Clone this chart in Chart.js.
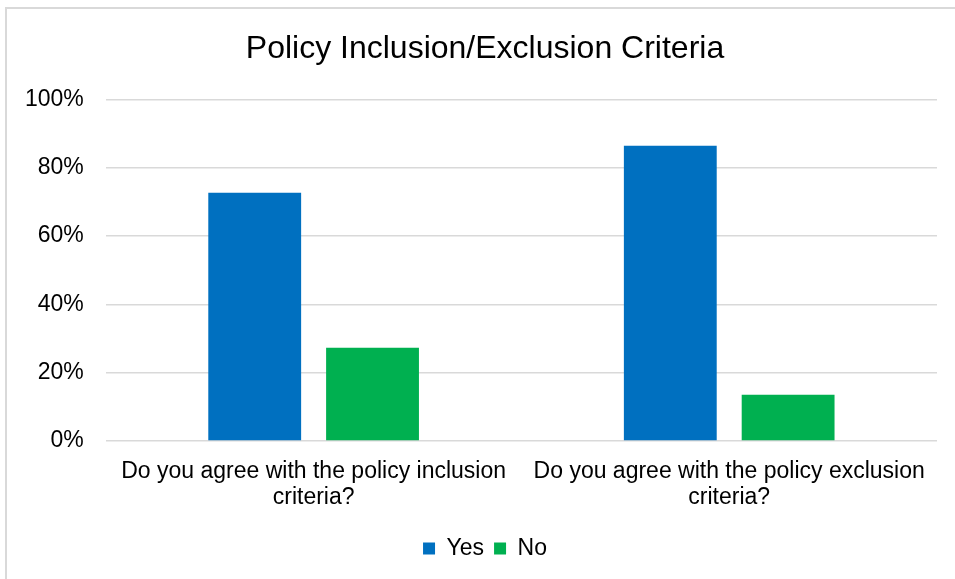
<!DOCTYPE html>
<html>
<head>
<meta charset="utf-8">
<script src="https://cdn.jsdelivr.net/npm/chart.js@4/dist/chart.umd.min.js"></script>
<style>
  html, body { margin: 0; padding: 0; background: #fff; overflow: hidden; }
  #frame {
    position: absolute; left: 5px; top: 7px;
    width: 1000px; height: 600px;
    border: 2px solid #d9d9d9; box-sizing: border-box;
  }
  #chart { position: absolute; left: 3px; top: 9px; display: block; }
</style>
</head>
<body>
<div id="frame"></div>
<canvas id="chart" width="964" height="576"></canvas>
<script>
  // survey answers, share of respondents (%)
  const categories = [
    ["Do you agree with the policy inclusion", "criteria?"],
    ["Do you agree with the policy exclusion", "criteria?"]
  ];
  const yesValues = [72.7, 86.4];
  const noValues = [27.3, 13.6];
  const yTicks = [0, 20, 40, 60, 80, 100];

  const FONT = "'Liberation Sans', Arial, sans-serif";

  new Chart(document.getElementById("chart"), {
    type: "bar",
    data: {
      labels: categories,
      datasets: [
        { label: "Yes", data: yesValues, backgroundColor: "#0070C0",
          categoryPercentage: 0.567, barPercentage: 0.788 },
        { label: "No", data: noValues, backgroundColor: "#00B050",
          categoryPercentage: 0.567, barPercentage: 0.788 }
      ]
    },
    options: {
      responsive: false,
      animation: false,
      layout: { padding: { left: 0, right: 0, top: 10, bottom: 15 } },
      plugins: {
        title: {
          display: true, text: "Policy Inclusion/Exclusion Criteria",
          color: "#000", font: { family: FONT, size: 32, weight: "normal" },
          padding: { top: 11, bottom: 31 }
        },
        legend: {
          position: "bottom",
          labels: {
            color: "#000", font: { family: FONT, size: 23 },
            boxWidth: 12, boxHeight: 12, padding: 10
          }
        },
        tooltip: { enabled: false }
      },
      scales: {
        x: {
          grid: { display: false, drawTicks: false },
          border: { display: false },
          ticks: { color: "#000", font: { family: FONT, size: 23, lineHeight: 1.15 },
                   maxRotation: 0, autoSkip: false, padding: 17 },
          afterFit: (axis) => {
            // wrapped labels fit inside their category; keep a fixed right gap
            axis.paddingLeft = 0;
            axis.paddingRight = 30;
            axis.height -= 1;
          }
        },
        y: {
          min: 0, max: 100,
          afterBuildTicks: (axis) => { axis.ticks = yTicks.map((v) => ({ value: v })); },
          grid: { color: "#d9d9d9", lineWidth: 1.5, drawTicks: false },
          border: { display: false },
          ticks: {
            color: "#000", font: { family: FONT, size: 23 }, padding: 22,
            callback: (v) => v + "%"
          }
        }
      }
    }
  });
</script>
</body>
</html>
